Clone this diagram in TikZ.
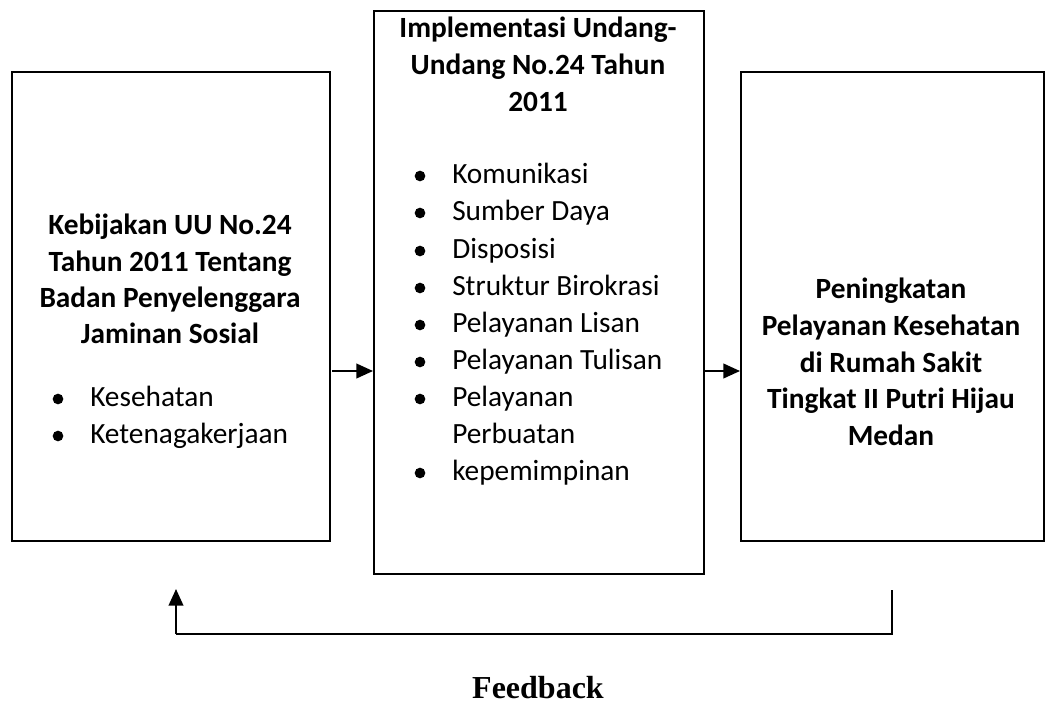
\documentclass[tikz,border=0pt]{standalone}
\usepackage{fontspec}
\setmainfont{Carlito}
\newfontfamily\fbfont{Liberation Serif}
\usetikzlibrary{arrows.meta}
\begin{document}
\begin{tikzpicture}[x=0.75pt,y=-0.75pt,
  box/.style={draw,line width=1.5pt,anchor=north west,inner sep=0pt},
  ttl/.style={anchor=base,inner sep=0pt,font=\fontsize{22pt}{27pt}\selectfont\bfseries},
  itm/.style={anchor=base west,inner sep=0pt,font=\fontsize{22pt}{27pt}\selectfont},
  bul/.style={circle,fill=black,inner sep=0pt,minimum size=8pt},
  arr/.style={line width=1.5pt,-{Triangle[length=12.5pt,width=11pt]}},
  fbl/.style={line width=1.5pt}]
\useasboundingbox (0,0) rectangle (1048,706);
% boxes
\node[box,minimum width=318*0.75pt,minimum height=469*0.75pt] (L) at (11,71) {};
\node[box,minimum width=330*0.75pt,minimum height=563*0.75pt] (M) at (373,10) {};
\node[box,minimum width=303*0.75pt,minimum height=469*0.75pt] (R) at (740,71) {};
% left text
\node[ttl] (l1) at (170,234) {Kebijakan UU No.24};
\node[ttl] (l2) at (170,271) {Tahun 2011 Tentang};
\node[ttl] (l3) at (170,307) {Badan Penyelenggara};
\node[ttl] (l4) at (170,343) {Jaminan Sosial};
\node[bul] (lb1) at (58,399) {};
\node[itm] (li1) at (90,406) {Kesehatan};
\node[bul] (lb2) at (58,436) {};
\node[itm] (li2) at (90,443) {Ketenagakerjaan};
% middle text
\node[ttl] (m1) at (538,38) {Implementasi Undang-};
\node[ttl] (m2) at (538,75) {Undang No.24 Tahun};
\node[ttl] (m3) at (538,112) {2011};
\foreach \t/\y [count=\i] in {Komunikasi/183,Sumber Daya/220,Disposisi/258,Struktur Birokrasi/295,Pelayanan Lisan/332,Pelayanan Tulisan/369,Pelayanan/406,kepemimpinan/480}{
  \node[bul] (mb\i) at (420,\y-7) {};
  \node[itm] (mi\i) at (452,\y) {\t};
}
\node[itm] (mi9) at (452,443) {Perbuatan};
% right text
\node[ttl] (r1) at (891,298) {Peningkatan};
\node[ttl] (r2) at (891,335) {Pelayanan Kesehatan};
\node[ttl] (r3) at (891,372) {di Rumah Sakit};
\node[ttl] (r4) at (891,408) {Tingkat II Putri Hijau};
\node[ttl] (r5) at (891,445) {Medan};
% arrows
\coordinate (a1s) at (332,371);
\coordinate (a2s) at (703,371);
\draw[arr] (a1s) -- (M.west |- a1s);
\draw[arr] (a2s) -- (R.west |- a2s);
% feedback
\coordinate (fr) at (892,590);
\coordinate (fbr) at (892,634);
\coordinate (fbl) at (176,634);
\coordinate (fl) at (176,589);
\draw[fbl] (fr) -- (fbr) -- (fbl);
\draw[arr] (fbl) -- (fl);
\node[anchor=base,inner sep=0pt,font=\fbfont\fontsize{24pt}{27pt}\selectfont\bfseries] (fb) at (538,698) {Feedback};
\end{tikzpicture}
\end{document}
